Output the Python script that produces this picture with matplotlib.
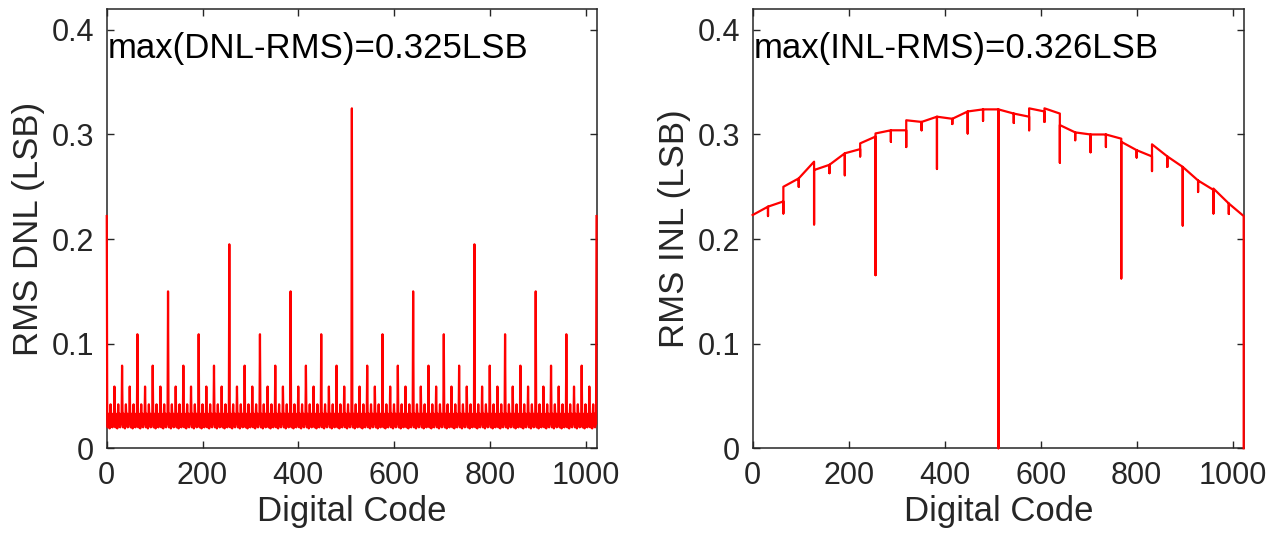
import numpy as np
import matplotlib
matplotlib.use("Agg")
import matplotlib.pyplot as plt

plt.rcParams['font.family'] = ['Liberation Sans', 'DejaVu Sans']

# x axis / tick labels
n_codes = 1024
x_ticks = [0, 200, 400, 600, 800, 1000]
y_ticks = [0, 0.1, 0.2, 0.3, 0.4]
y_tick_labels = ['0', '0.1', '0.2', '0.3', '0.4']

# DNL: floor pattern per 16 codes, spike height per power-of-two boundary
dnl_floor = [0.024, 0.031, 0.020, 0.033, 0.022, 0.030, 0.019, 0.032,
             0.025, 0.029, 0.021, 0.033, 0.020, 0.031, 0.023, 0.028]
dnl_spike_step = [8, 16, 32, 64, 128, 256, 512]
dnl_spike_height = [0.042, 0.059, 0.079, 0.109, 0.150, 0.195, 0.325]
dnl_end_value = 0.222

# INL: value before each 32-code boundary, the dip at it, value after it
inl_codes = [0, 32, 64, 96, 128, 160, 192, 224, 256, 288, 320, 352, 384, 416, 448, 480,
             512, 544, 576, 608, 640, 672, 704, 736, 768, 800, 832, 864, 896, 928, 960, 992, 1023]
inl_before = [0.223, 0.231, 0.236, 0.258, 0.274, 0.271, 0.282, 0.286, 0.298, 0.304, 0.304,
              0.312, 0.317, 0.315, 0.322, 0.324, 0.324, 0.320, 0.317, 0.322, 0.320, 0.302,
              0.300, 0.300, 0.296, 0.285, 0.279, 0.279, 0.269, 0.256, 0.247, 0.234, 0.222]
inl_dip = [0.223, 0.222, 0.2245, 0.250, 0.214, 0.263, 0.261, 0.279, 0.1655, 0.293, 0.288,
           0.304, 0.267, 0.310, 0.301, 0.313, 0.0, 0.311, 0.304, 0.312, 0.273, 0.2945,
           0.283, 0.288, 0.1624, 0.278, 0.265, 0.269, 0.213, 0.245, 0.2245, 0.224, 0.0]
inl_after = [0.223, 0.231, 0.250, 0.258, 0.266, 0.271, 0.282, 0.2915, 0.301, 0.304, 0.3136,
             0.312, 0.317, 0.315, 0.322, 0.324, 0.324, 0.320, 0.325, 0.325, 0.309, 0.302,
             0.300, 0.300, 0.293, 0.285, 0.2906, 0.279, 0.269, 0.256, 0.2483, 0.234, 0.0]

# build the DNL series from the table
codes = np.arange(n_codes)
dnl = np.tile(dnl_floor, n_codes // len(dnl_floor)).astype(float)
for step, h in zip(dnl_spike_step, dnl_spike_height):
    dnl[::step] = h
dnl[0] = dnl_end_value
dnl[-1] = dnl_end_value

inl_x = np.repeat(inl_codes, 3)
inl_y = np.column_stack([inl_before, inl_dip, inl_after]).ravel()

dark = '#262626'
fig = plt.figure(figsize=(12.8, 5.44), dpi=100)
ax1 = fig.add_axes([0.0834, 0.176, 0.383, 0.8075])
ax2 = fig.add_axes([0.588, 0.176, 0.384, 0.8075])

ax1.plot(codes, dnl, color='#ff0000', lw=1.6, zorder=3, clip_on=False)
ax2.plot(inl_x, inl_y, color='#ff0000', lw=1.6, zorder=3, clip_on=False)

for ax, ylab, txt in [(ax1, 'RMS DNL (LSB)', 'max(DNL-RMS)=0.325LSB'),
                      (ax2, 'RMS INL (LSB)', 'max(INL-RMS)=0.326LSB')]:
    ax.set_xlim(0, n_codes)
    ax.set_ylim(0, 0.42)
    ax.set_xticks(x_ticks)
    ax.set_yticks(y_ticks)
    ax.set_yticklabels(y_tick_labels)
    ax.tick_params(direction='in', length=5, width=1, colors=dark,
                   labelsize=22, top=True, right=True, pad=9)
    for s in ax.spines.values():
        s.set_linewidth(1.1)
        s.set_color(dark)
    ax.set_xlabel('Digital Code', fontsize=25, color=dark, labelpad=3)
    ax.set_ylabel(ylab, fontsize=25, color=dark, labelpad=5)
    ax.text(2, 0.382, txt, fontsize=25, color='black', ha='left', va='center')

fig.savefig('out.png', dpi=100)
